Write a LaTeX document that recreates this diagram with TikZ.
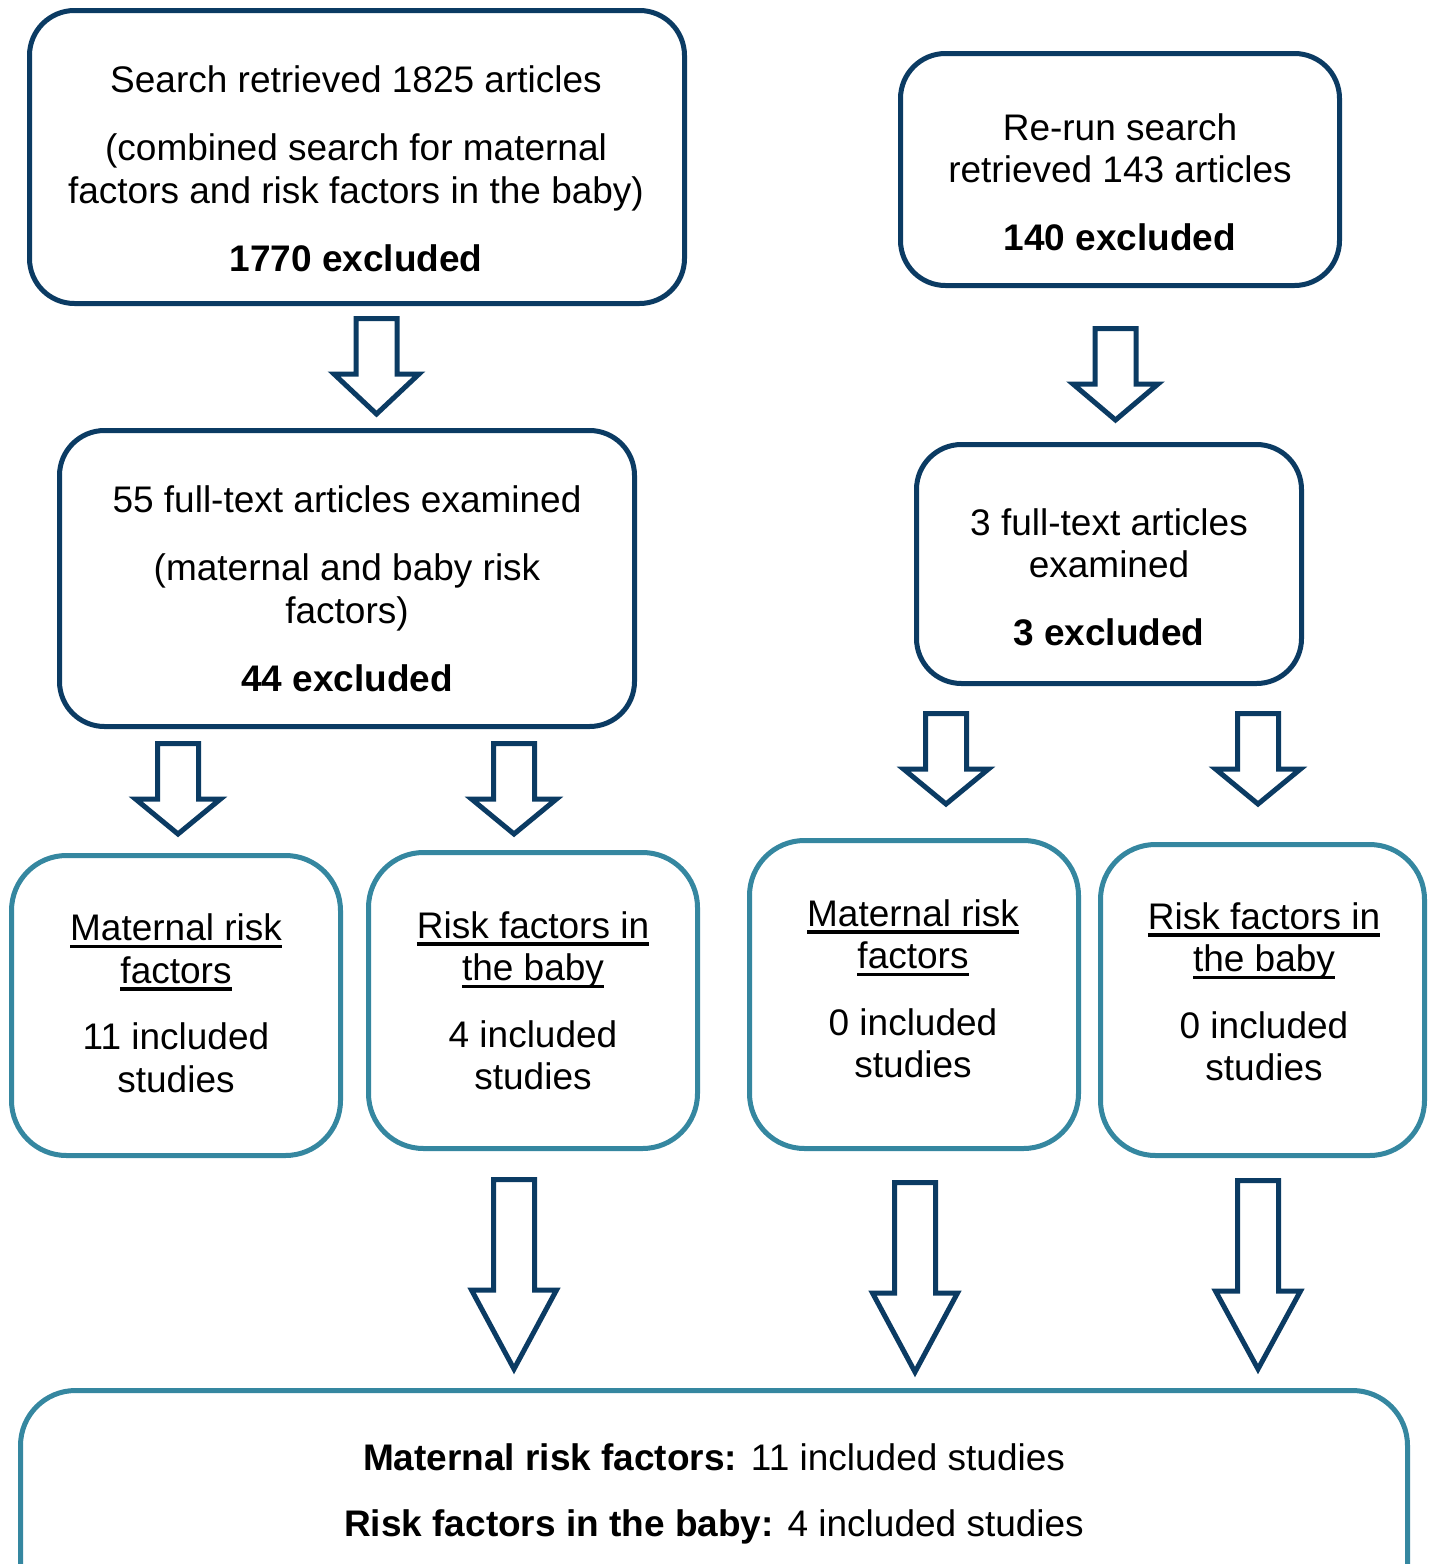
\documentclass[tikz,border=0pt]{standalone}
\usepackage{fontspec}
\setmainfont{Liberation Sans}
\newsavebox\ulbox
\newcommand\myul[1]{\sbox\ulbox{#1}\rlap{\rule[-7.2pt]{\wd\ulbox}{3.2pt}}\usebox\ulbox}
\definecolor{dblue}{HTML}{0B3B63}
\definecolor{tealb}{HTML}{3587A0}
\newcommand\blockarrow[4]{% cx, ytop, yhead, ytip
  \draw[arrowline] ({#1-20.5},#2) -- ({#1+20.5},#2) -- ({#1+20.5},#3) -- ({#1+42.5},#3)
    -- (#1,#4) -- ({#1-42.5},#3) -- ({#1-20.5},#3) -- cycle;}
\begin{document}
\begin{tikzpicture}[x=1pt,y=-1pt,
  darkbox/.style={draw=dblue,line width=5pt,rounded corners=45pt,fill=white,inner sep=0pt},
  tealbox/.style={draw=tealb,line width=5pt,rounded corners=55pt,fill=white,inner sep=0pt},
  arrowline/.style={draw=dblue,line width=5pt,miter limit=10,fill=white},
  txt/.style={inner sep=0pt,align=center,font=\fontsize{37pt}{42.5pt}\selectfont}]
\useasboundingbox (0,0) rectangle (1429,1564);
\clip (0,0) rectangle (1429,1564);
\fill[white] (0,0) rectangle (1429,1564);
% boxes
\node[darkbox,minimum width=655pt,minimum height=293pt] (b1) at (357,157) {};
\node[darkbox,minimum width=439pt,minimum height=232pt] (b2) at (1120,169.5) {};
\node[darkbox,minimum width=575pt,minimum height=296pt] (b3) at (347,578.5) {};
\node[darkbox,minimum width=385pt,minimum height=239pt] (b4) at (1109,564) {};
\node[tealbox,minimum width=329pt,minimum height=300pt] (b5) at (176,1005.5) {};
\node[tealbox,minimum width=329pt,minimum height=296pt] (b6) at (533,1000.5) {};
\node[tealbox,minimum width=329pt,minimum height=308pt] (b7) at (914,994.5) {};
\node[tealbox,minimum width=324pt,minimum height=311pt] (b8) at (1262.5,1000) {};
\node[tealbox,minimum width=1387pt,minimum height=249pt] (b9) at (714,1515) {};
% texts
\node[txt] (t1) at (356,169) {Search retrieved 1825 articles\\[26pt](combined search for maternal\\factors and risk factors in the baby)\\[26pt]\textbf{1770 excluded}};
\node[txt] (t2) at (1120,182) {Re-run search\\retrieved 143 articles\\[25pt]\textbf{140 excluded}};
\node[txt] (t3) at (347,589) {55 full-text articles examined\\[26pt](maternal and baby risk\\factors)\\[26pt]\textbf{44 excluded}};
\node[txt] (t4) at (1109,577) {3 full-text articles\\examined\\[25pt]\textbf{3 excluded}};
\node[txt] (t5) at (176,1003.5) {\myul{Maternal risk}\\\myul{factors}\\[24pt]11 included\\studies};
\node[txt] (t6) at (533,1001) {\myul{Risk factors in}\\\myul{the baby}\\[24pt]4 included\\studies};
\node[txt] (t7) at (913,989) {\myul{Maternal risk}\\\myul{factors}\\[24pt]0 included\\studies};
\node[txt] (t8) at (1264,992) {\myul{Risk factors in}\\\myul{the baby}\\[24pt]0 included\\studies};
\node[txt] (t9) at (714,1494) {\textbf{Maternal risk factors:} 11 included studies\\[24pt]\textbf{Risk factors in the baby:} 4 included studies};
% block arrows
\blockarrow{376.5}{318.5}{374}{414}
\blockarrow{1115.5}{328.5}{384}{420}
\blockarrow{178}{743.5}{799}{834}
\blockarrow{514}{743.5}{799}{834}
\blockarrow{946}{713.5}{769}{804}
\blockarrow{1258}{713.5}{769}{804}
\blockarrow{514}{1179.5}{1290}{1369}
\blockarrow{915}{1182.5}{1293}{1372}
\blockarrow{1258}{1180.5}{1291}{1369}
\end{tikzpicture}
\end{document}
